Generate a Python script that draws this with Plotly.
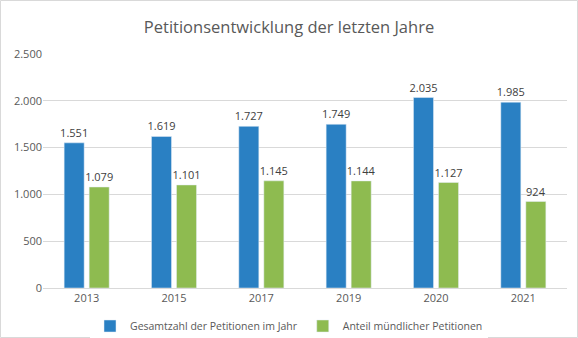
import plotly.graph_objects as go

years = ["2013", "2015", "2017", "2019", "2020", "2021"]
gesamt = [1551, 1619, 1727, 1749, 2035, 1985]
muendlich = [1079, 1101, 1145, 1144, 1127, 924]
series_names = ["Gesamtzahl der Petitionen im Jahr", "Anteil mündlicher Petitionen"]
tick_vals = [0, 500, 1000, 1500, 2000, 2500]

W, H = 578, 338
ml, mr, mt, mb = 43, 11, 54, 50
pw, ph = W - ml - mr, H - mt - mb

font_fam = "Open Sans, Noto Sans, sans-serif"
txtcol = "#595959"

fig = go.Figure()
fig.add_trace(go.Bar(x=years, y=gesamt, name=series_names[0], marker_color="#2A80C3",
                     texttemplate="%{y:,}", textposition="outside", constraintext="none",
                     textfont=dict(size=11, color="#404040"), cliponaxis=False))
fig.add_trace(go.Bar(x=years, y=muendlich, name=series_names[1], marker_color="#8EBB50",
                     texttemplate="%{y:,}", textposition="outside", constraintext="none",
                     textfont=dict(size=11, color="#404040"), cliponaxis=False))

fig.update_layout(
    width=W, height=H,
    margin=dict(l=ml, r=mr, t=mt, b=mb, autoexpand=False),
    separators=",.",
    paper_bgcolor="white", plot_bgcolor="white",
    font=dict(family=font_fam, size=11, color=txtcol),
    title=dict(text="Petitionsentwicklung der letzten Jahre", x=0.5, xanchor="center",
               xref="container", yref="container",
               y=1 - 27 / H, yanchor="middle", font=dict(size=16.5, color=txtcol)),
    barmode="group", bargap=0.427, bargroupgap=0.2,
    legend=dict(orientation="h", x=0.5, xanchor="center", xref="container",
                yref="container", y=(H - 326) / H,
                yanchor="middle", font=dict(size=10.5, color=txtcol), itemwidth=30),
    xaxis=dict(showgrid=False, showline=True, linecolor="#D9D9D9", linewidth=1,
               ticks="", automargin=False, tickfont=dict(size=11, color=txtcol)),
    yaxis=dict(range=[0, 2500], tickvals=tick_vals, tickformat=",d", showgrid=True,
               gridcolor="#D9D9D9", gridwidth=1, zeroline=False, showline=False,
               automargin=False, ticks="", ticklen=0, tickfont=dict(size=11, color=txtcol)),
    shapes=[dict(type="rect", xref="paper", yref="paper",
                 x0=-(ml - 0.5) / pw, x1=1 + (mr - 0.5) / pw,
                 y0=-(mb - 0.5) / ph, y1=1 + (mt - 0.5) / ph,
                 line=dict(color="#D9D9D9", width=1), layer="below")],
)

fig.write_html("out.html")
